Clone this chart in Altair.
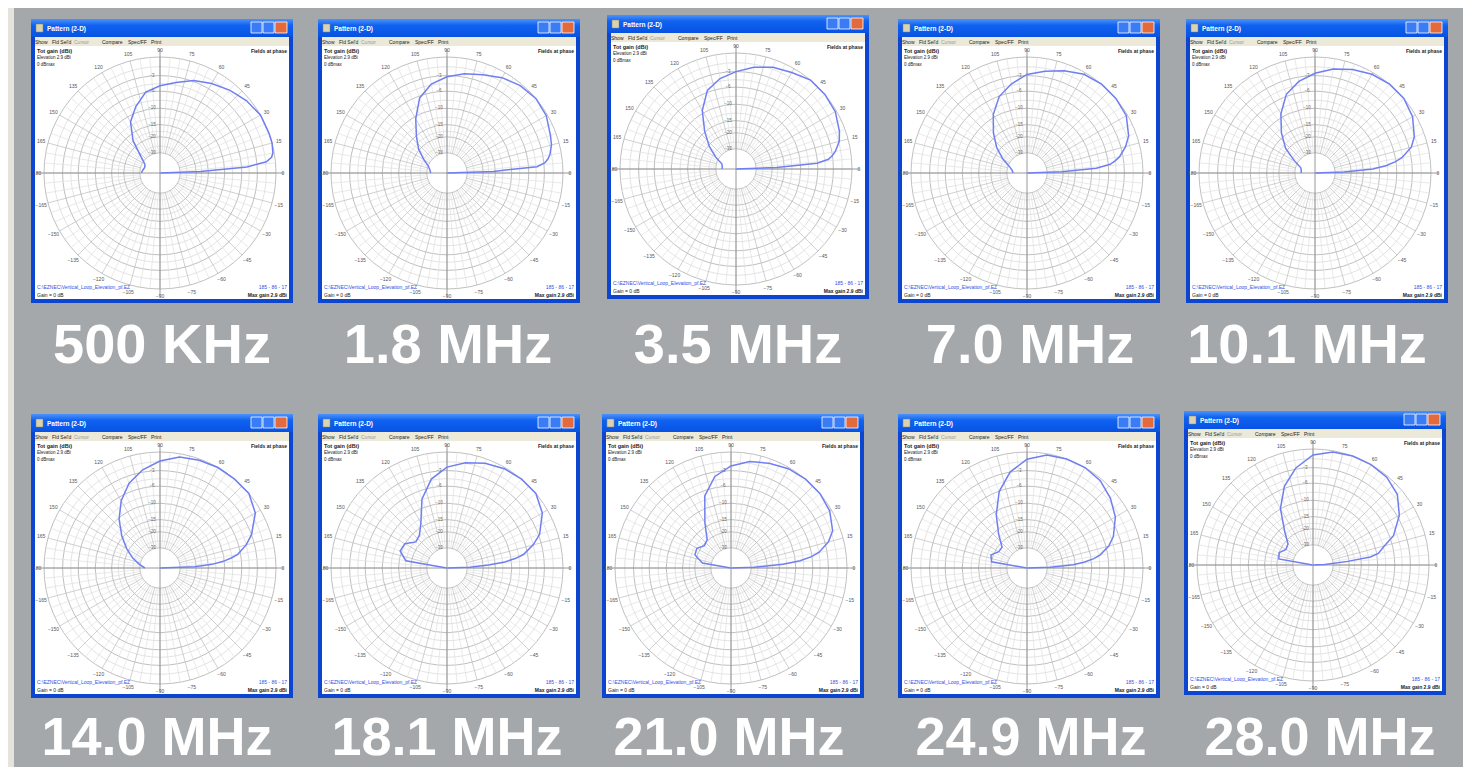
import altair as alt
import pandas as pd

# ---------------- data ----------------
FREQ_LABELS = ["500 KHz", "1.8 MHz", "3.5 MHz", "7.0 MHz", "10.1 MHz",
               "14.0 MHz", "18.1 MHz", "21.0 MHz", "24.9 MHz", "28.0 MHz"]

ELEVATION_DEG = [0, 2, 4, 6, 8, 10, 15, 20, 30, 40, 50, 60, 70, 80, 90,
                 100, 110, 120, 130, 140, 150, 160, 170, 180]

# gain relative to maximum (dB), one list per frequency
GAIN_500KHZ = [-99, -18.0, -4.9, -1.4, -0.5, -0.2, 0, 0, 0, -0.5, -1.2, -2.0, -2.8, -4.0, -4.9,
               -5.9, -8.5, -11.6, -17.5, -26.8, -32.6, -33.7, -32.6, -31.4]
GAIN_1M8 = [-99, -15.7, -4.3, -2.8, -2.2, -1.8, -1.2, -0.9, -0.2, 0, -0.3, -0.9, -1.8, -2.4, -3.2,
            -4.3, -6.4, -10.6, -15.3, -19.6, -25.2, -30.4, -32.6, -33.7]
GAIN_3M5 = [-99, -18.0, -6.1, -3.8, -3.0, -2.4, -1.4, -0.9, -0.2, 0, 0, -0.7, -1.2, -2.0, -3.0,
            -4.0, -5.6, -9.3, -14.9, -20.7, -27.6, -35.0, -36.4, -36.4]
GAIN_7M0 = [-99, -20.7, -8.8, -5.6, -4.5, -3.6, -2.2, -1.2, -0.2, 0, 0, -0.3, -1.1, -2.0, -2.8,
            -4.3, -6.1, -9.3, -13.7, -18.5, -24.5, -31.4, -35.0, -36.4]
GAIN_10M1 = [-99, -23.8, -11.9, -8.2, -6.1, -4.7, -2.6, -1.6, -0.5, 0, 0, -0.3, -0.9, -1.6, -2.6,
             -3.8, -5.6, -9.1, -13.7, -19.0, -27.6, -35.0, -36.4, -36.4]
GAIN_14M0 = [-99, -20.7, -13.7, -10.3, -8.2, -6.6, -4.5, -3.0, -0.9, 0, 0, 0, -0.2, -0.5, -1.4,
             -2.6, -4.3, -6.9, -10.3, -14.5, -19.0, -23.8, -29.4, -35.0]
GAIN_18M1 = [-99, -27.6, -17.5, -11.9, -8.8, -6.9, -4.5, -2.8, -0.9, 0, 0, -0.2, -0.7, -1.4, -2.4,
             -4.3, -7.9, -13.7, -17.1, -18.0, -14.9, -14.5, -17.5, -99]
GAIN_21M0 = [-99, -27.6, -13.7, -8.8, -6.1, -4.5, -2.4, -1.2, -0.3, 0, 0, -0.2, -0.7, -1.2, -2.2,
             -3.8, -7.1, -13.7, -19.6, -20.7, -18.5, -19.0, -23.8, -99]
GAIN_24M9 = [-99, -27.6, -15.7, -11.9, -9.3, -7.7, -5.4, -4.0, -2.2, -1.1, -0.3, 0, 0, -0.2, -1.1,
             -3.0, -6.1, -10.9, -16.6, -21.8, -21.8, -19.0, -20.1, -99]
GAIN_28M0 = [-99, -39.5, -32.6, -20.7, -11.9, -9.6, -7.7, -5.2, -2.6, -0.9, -0.2, 0, 0, -0.2, -0.9,
             -2.8, -5.6, -9.9, -16.6, -21.8, -22.5, -20.1, -20.7, -99]
GAINS = [GAIN_500KHZ, GAIN_1M8, GAIN_3M5, GAIN_7M0, GAIN_10M1,
         GAIN_14M0, GAIN_18M1, GAIN_21M0, GAIN_24M9, GAIN_28M0]

RING_DB_MAJOR = [0, -3, -6, -10, -15, -20, -30]
RING_DB_MINOR = [-1.5, -4.5, -8, -12.5, -17.5, -25]
RING_LABEL_DB = [-3, -6, -10, -15, -20, -30]
SPOKE_DEG = list(range(0, 360, 5))
SCALE_LABEL_DEG = list(range(0, 360, 15))

MENU_ITEMS = ["Show", "Fld Sel'd", "Cursor", "Compare", "Spec/FF", "Print"]
TITLE_TEXT = "Pattern   (2-D)"
TOP_LEFT_LINES = ["Tot gain (dBi)", "Elevation   2.9 dBi", "0 dBmax"]
TOP_RIGHT_TEXT = "Fields at phase"
BOTTOM_BLUE_LEFT = "C:\\EZNEC\\Vertical_Loop_Elevation_pf.EZ"
BOTTOM_BLUE_RIGHT = "185 - 86 - 17"
BOTTOM_LEFT = "Gain = 0 dB"
BOTTOM_RIGHT = "Max gain 2.9 dBi"

# ---------------- layout (page pixels) ----------------
PANEL_LEFT = [31, 318, 607, 898, 1186, 31, 318, 602, 898, 1184]
PANEL_TOP = [19, 19, 15, 19, 19, 414, 414, 414, 414, 411]
LABEL_CX = [162, 448, 738, 1030, 1307, 157, 447, 729, 1031, 1320]
LABEL_BASE = [363] * 5 + [755] * 5
LABEL_ROW = [1] * 5 + [2] * 5
WIN_W, WIN_H = 262, 284
CENTER_DX, CENTER_DY = 129, 154
RADIUS = 116
MENU_X = [4, 21, 43, 71, 97, 120]

PAGE_W, PAGE_H = 1455, 759
XS = alt.Scale(domain=[8, 8 + PAGE_W], nice=False, zero=False)
YS = alt.Scale(domain=[8, 8 + PAGE_H], nice=False, zero=False, reverse=True)


def X(f):
    return alt.X(f"{f}:Q", scale=XS, axis=None)


def Y(f):
    return alt.Y(f"{f}:Q", scale=YS, axis=None)


panels = pd.DataFrame({
    "panel": list(range(10)),
    "freq": FREQ_LABELS,
    "left": PANEL_LEFT,
    "top": PANEL_TOP,
    "lx": LABEL_CX,
    "ly": LABEL_BASE,
    "row": LABEL_ROW,
})
panels["cx"] = panels["left"] + CENTER_DX
panels["cy"] = panels["top"] + CENTER_DY

curve_rows = []
for i, gains in enumerate(GAINS):
    for a, g in zip(ELEVATION_DEG, gains):
        curve_rows.append({"panel": i, "elev": a, "gain": g,
                           "cx": panels.cx[i], "cy": panels.cy[i]})
curves = pd.DataFrame(curve_rows)


def product(values, name):
    rows = []
    for i in range(10):
        for v in values:
            rows.append({"panel": i, name: v, "cx": panels.cx[i], "cy": panels.cy[i]})
    return pd.DataFrame(rows)


ARRL = "pow(0.89, -datum.{f} / 2)"

layers = []

# light strip at the left edge
strip = pd.DataFrame({"a": [8], "b": [14], "c": [8], "d": [8 + PAGE_H]})
layers.append(alt.Chart(strip).mark_rect(color="#e6e2dd").encode(
    x=X("a"), x2="b", y=Y("c"), y2="d"))


def win_rect(x0, y0, x1, y1, **mk):
    return alt.Chart(panels).transform_calculate(
        x0=f"datum.left + {x0}", x1=f"datum.left + {x1}",
        y0=f"datum.top + {y0}", y1=f"datum.top + {y1}",
    ).mark_rect(**mk).encode(x=X("x0"), x2="x1", y=Y("y0"), y2="y1")


title_grad = alt.LinearGradient(
    gradient="linear", x1=0, y1=0, x2=0, y2=1,
    stops=[alt.GradientStop(color="#4d93fb", offset=0),
           alt.GradientStop(color="#1062f0", offset=0.35),
           alt.GradientStop(color="#0852e2", offset=1)])

layers += [
    win_rect(0, 0, WIN_W, WIN_H, color="#0b45d0"),
    win_rect(0, 0, WIN_W, 18, color=title_grad),
    win_rect(4, 18, WIN_W - 4, 27, color="#ece9d8"),
    win_rect(4, 27, WIN_W - 4, WIN_H - 4, color="#ffffff"),
    win_rect(5, 5, 12, 13, color="#d9d2b4", stroke="#8a8060", strokeWidth=0.5),
    win_rect(220, 3, 231, 14, color="#3a7cf5", stroke="#ffffff", strokeWidth=0.8),
    win_rect(232, 3, 243, 14, color="#3a7cf5", stroke="#ffffff", strokeWidth=0.8),
    win_rect(244, 3, 256, 14, color="#e36a3c", stroke="#ffffff", strokeWidth=0.8),
]


def win_text(text, dx, dy, align="left", color="#222222", size=5, weight="normal"):
    return alt.Chart(panels).transform_calculate(
        tx=f"datum.left + {dx}", ty=f"datum.top + {dy}",
    ).mark_text(text=text, align=align, baseline="middle", color=color,
                fontSize=size, fontWeight=weight, font="Liberation Sans").encode(
        x=X("tx"), y=Y("ty"))


layers.append(win_text(TITLE_TEXT, 16, 9.5, color="#ffffff", size=6.5, weight="bold"))
for item, mx in zip(MENU_ITEMS, MENU_X):
    layers.append(win_text(item, mx, 22.5, color="#9a9a9a" if item == "Cursor" else "#222222", size=5))
for k, line in enumerate(TOP_LEFT_LINES):
    layers.append(win_text(line, 6, 32 + 7 * k, size=5.5 if k == 0 else 4.5,
                           weight="bold" if k == 0 else "normal"))
layers.append(win_text(TOP_RIGHT_TEXT, WIN_W - 6, 32, align="right", size=5, weight="bold"))
layers.append(win_text(BOTTOM_BLUE_LEFT, 6, 268, color="#2f4fe6", size=5))
layers.append(win_text(BOTTOM_BLUE_RIGHT, WIN_W - 6, 268, align="right", color="#2f4fe6", size=5))
layers.append(win_text(BOTTOM_LEFT, 6, 276, size=5))
layers.append(win_text(BOTTOM_RIGHT, WIN_W - 6, 276, align="right", size=5, weight="bold"))

# rings (ARRL log scale), drawn as open circles sized in pixels
for ring_vals, col, sw in [(RING_DB_MINOR, "#dcdcdc", 0.8), (RING_DB_MAJOR, "#b8b8b8", 0.9)]:
    layers.append(alt.Chart(product(ring_vals, "db")).transform_calculate(
        r=ARRL.format(f="db"),
        s=f"pow(2 * {RADIUS} * datum.r, 2)",
    ).mark_point(shape="circle", filled=False, color=col, strokeWidth=sw, opacity=1).encode(
        x=X("cx"), y=Y("cy"), size=alt.Size("s:Q", scale=None, legend=None)))

# spokes from the -30 dB ring to the outer ring
inner_r = f"pow(0.89, {-RING_DB_MAJOR[-1]} / 2)"
spokes = product(SPOKE_DEG, "deg")
layers.append(alt.Chart(spokes).transform_calculate(
    major="datum.deg % 15 == 0",
    x0=f"datum.cx + {RADIUS} * {inner_r} * cos(datum.deg * PI / 180)",
    y0=f"datum.cy - {RADIUS} * {inner_r} * sin(datum.deg * PI / 180)",
    x1=f"datum.cx + {RADIUS} * cos(datum.deg * PI / 180)",
    y1=f"datum.cy - {RADIUS} * sin(datum.deg * PI / 180)",
).mark_rule(strokeWidth=0.7).encode(
    x=X("x0"), y=Y("y0"), x2="x1", y2="y1",
    color=alt.condition("datum.major", alt.value("#bcbcbc"), alt.value("#e0e0e0"))))

# main axes through the centre
layers.append(alt.Chart(panels).transform_calculate(
    a=f"datum.cx - {RADIUS + 8}", b=f"datum.cx + {RADIUS + 8}"
).mark_rule(color="#8c8c8c", strokeWidth=0.9).encode(x=X("a"), x2="b", y=Y("cy")))
layers.append(alt.Chart(panels).transform_calculate(
    a=f"datum.cy - {RADIUS + 8}", b=f"datum.cy + {RADIUS + 8}"
).mark_rule(color="#8c8c8c", strokeWidth=0.9).encode(y=Y("a"), y2="b", x=X("cx")))

# angle labels around the outside
layers.append(alt.Chart(product(SCALE_LABEL_DEG, "deg")).transform_calculate(
    tx=f"datum.cx + {RADIUS} * 1.06 * cos(datum.deg * PI / 180)",
    ty=f"datum.cy - {RADIUS} * 1.06 * sin(datum.deg * PI / 180)",
    lab="datum.deg <= 180 ? datum.deg : datum.deg - 360",
).mark_text(fontSize=5, color="#555555", font="Liberation Sans").encode(
    x=X("tx"), y=Y("ty"), text=alt.Text("lab:Q", format="d")))

# ring labels along the vertical axis
layers.append(alt.Chart(product(RING_LABEL_DB, "db")).transform_calculate(
    r=ARRL.format(f="db"),
    tx="datum.cx - 8",
    ty=f"datum.cy - {RADIUS} * datum.r",
).mark_text(fontSize=4.5, color="#666666", font="Liberation Sans").encode(
    x=X("tx"), y=Y("ty"), text=alt.Text("db:Q", format="d")))

# the elevation patterns
layers.append(alt.Chart(curves).transform_calculate(
    r=ARRL.format(f="gain"),
    px=f"datum.cx + {RADIUS} * datum.r * cos(datum.elev * PI / 180)",
    py=f"datum.cy - {RADIUS} * datum.r * sin(datum.elev * PI / 180)",
).mark_line(color="#6f7ff2", strokeWidth=1.5, interpolate="linear").encode(
    x=X("px"), y=Y("py"), order=alt.Order("elev:Q"), detail="panel:N"))

# frequency captions
for row, fsize in [(1, 56), (2, 54)]:
    layers.append(alt.Chart(panels).transform_filter(f"datum.row == {row}").mark_text(
        font="Liberation Sans", fontWeight="bold", fontSize=fsize, color="#ffffff",
        align="center", baseline="alphabetic").encode(
        x=X("lx"), y=Y("ly"), text="freq:N"))

chart = alt.layer(*layers).properties(
    width=PAGE_W, height=PAGE_H, padding=0, autosize="none"
).configure(background="#a4a8ab").configure_view(stroke=None)

chart.save("out.html", embed_options={"renderer": "svg", "actions": False})
